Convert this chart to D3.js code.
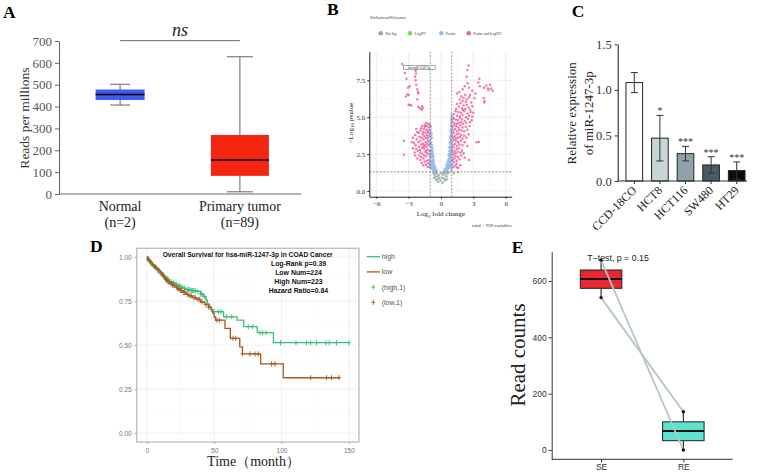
<!DOCTYPE html>
<html>
<head>
<meta charset="utf-8">
<script src="https://cdn.jsdelivr.net/npm/d3@7"></script>
<style>
body { margin: 0; background: #fff; }
</style>
</head>
<body>
<svg id="fig" width="757" height="475"></svg>
<script>
// ---------- data ----------
// A: UALCAN box plot  [min, q1, median, q3, max]
const tcgaGroups = ['Normal', 'Primary tumor'];
const tcgaCounts = ['(n=2)', '(n=89)'];
const tcgaStats = [
    [407, 430, 455, 478, 502],
    [10, 83, 156, 270, 628],
];
const tcgaTicks = [0, 100, 200, 300, 400, 500, 600, 700];

// B: volcano  [log2FC, -log10 p]
const volcanoLabel = ['hsa-miR-1247-3p', -2.35, 8.15];
const volcanoPoints = [
    // pink, left
    [-1.05,4.5],[-1.12,4.3],[-1.2,4.55],[-1.3,4.4],[-1.4,4.6],[-1.5,4.35],[-1.6,4.2],[-1.75,4.4],[-1.9,4.1],[-2.05,3.95],
    [-2.2,4.0],[-2.4,3.8],[-2.6,3.6],[-2.7,3.3],[-1.08,3.9],[-1.15,3.7],[-1.22,4.0],[-1.3,3.8],[-1.38,3.6],[-1.45,3.95],
    [-1.55,3.7],[-1.62,3.5],[-1.7,3.85],[-1.8,3.6],[-1.9,3.4],[-2.0,3.65],[-2.1,3.3],[-2.25,3.5],[-2.35,3.1],[-2.5,3.25],
    [-2.6,2.9],[-1.05,3.3],[-1.12,3.1],[-1.2,3.4],[-1.28,3.2],[-1.35,3.0],[-1.42,3.3],[-1.5,3.1],[-1.58,2.9],[-1.66,3.2],
    [-1.75,2.95],[-1.85,3.15],[-1.95,2.8],[-2.05,3.0],[-2.15,2.7],[-2.3,2.85],[-2.45,2.6],[-1.06,2.7],[-1.14,2.5],[-1.22,2.8],
    [-1.3,2.55],[-1.38,2.35],[-1.46,2.65],[-1.55,2.4],[-1.63,2.2],[-1.72,2.5],[-1.82,2.3],[-1.92,2.1],[-2.02,2.4],[-2.2,2.2],
    [-1.08,2.1],[-1.18,1.9],[-1.28,2.05],[-1.4,1.8],[-1.52,2.0],[-1.65,1.75],[-1.8,1.9],[-1.1,1.6],[-1.25,1.65],[-1.02,2.35],
    [-1.02,1.8],[-3.45,3.4],[-3.45,2.45],[-1.35,4.15],[-1.65,4.0],[-1.15,4.1],[-1.48,4.45],[-1.85,4.25],[-2.3,4.2],[-1.25,3.55],
    [-1.6,3.05],[-1.9,2.6],[-2.4,2.4],[-1.35,2.75],
    [-3.6,8.6],[-3.35,8.0],[-2.4,7.75],[-2.35,7.5],[-2.3,7.2],[-3.05,7.0],[-2.9,7.1],[-3.1,6.55],[-3.0,6.5],[-2.2,6.9],
    [-2.15,6.7],[-2.1,6.6],[-2.9,5.85],[-2.75,5.8],[-2.1,5.7],[-1.95,5.6],[-1.8,5.5],[-1.7,5.6],[-3.2,7.6],[-2.32,7.97],
    [-2.2,6.2],[-3.25,6.4],[-3.0,5.83],[-1.75,5.75],
    // pink, right
    [1.9,6.4],[2.1,6.3],[2.25,6.5],[2.4,6.2],[2.6,6.35],[2.0,6.1],[1.75,6.2],[2.8,6.0],[2.3,6.05],
    [1.5,5.9],[1.65,5.7],[1.8,5.95],[1.95,5.6],[2.1,5.8],[2.25,5.55],[2.4,5.85],[2.55,5.65],[2.7,5.5],[2.9,5.75],[1.4,5.55],[2.05,5.5],
    [1.2,5.2],[1.35,5.4],[1.5,5.1],[1.6,5.35],[1.75,5.05],[1.85,5.3],[2.0,5.15],[2.15,5.4],[2.3,5.0],[2.45,5.25],[2.6,5.1],[2.75,5.35],[2.9,5.05],[3.0,5.3],[1.1,5.0],
    [1.05,4.7],[1.15,4.9],[1.25,4.6],[1.35,4.85],[1.45,4.55],[1.55,4.8],[1.65,4.6],[1.75,4.95],[1.85,4.65],[1.95,4.85],[2.05,4.55],[2.2,4.75],[2.35,4.6],[2.5,4.9],[2.7,4.65],[2.85,4.8],
    [1.05,4.3],[1.12,4.1],[1.2,4.45],[1.3,4.2],[1.4,4.4],[1.5,4.05],[1.6,4.3],[1.7,4.15],[1.8,4.45],[1.9,4.1],[2.0,4.3],[2.15,4.05],[2.3,4.35],[2.45,4.15],[2.65,4.4],
    [1.03,3.8],[1.1,3.6],[1.18,3.95],[1.27,3.7],[1.36,3.55],[1.45,3.85],[1.55,3.6],[1.65,3.9],[1.75,3.65],[1.88,3.8],[2.0,3.55],[2.15,3.75],[2.35,3.6],[2.55,3.85],
    [1.04,3.3],[1.12,3.1],[1.2,3.45],[1.3,3.2],[1.4,3.4],[1.5,3.05],[1.6,3.3],[1.72,3.15],[1.85,3.4],[2.0,3.1],[2.2,3.3],[3.3,3.3],[3.5,3.32],[2.45,3.05],
    [1.02,2.8],[1.1,2.6],[1.18,2.95],[1.26,2.7],[1.35,2.55],[1.45,2.85],[1.55,2.65],[1.68,2.9],[1.8,2.6],[1.95,2.75],[2.1,2.55],
    [1.03,2.3],[1.1,2.1],[1.17,2.45],[1.25,2.2],[1.35,2.35],[1.45,2.05],[1.58,2.3],[1.72,2.15],[1.9,2.4],[2.2,2.25],[2.6,2.1],
    [1.05,1.8],[1.12,1.6],[1.2,1.95],[1.32,1.7],[1.45,1.85],[1.6,1.55],[1.8,1.75],[1.5,1.6],
    [2.55,8.5],[2.45,8.2],[2.38,7.75],[2.47,7.3],[2.6,7.0],[3.55,7.6],[3.46,7.35],[3.6,7.1],[4.0,7.0],[4.2,7.15],
    [4.35,6.95],[4.55,7.2],[4.65,6.95],[4.4,6.85],[4.8,6.8],[3.95,6.3],[4.05,6.1],[4.0,6.0],[3.2,6.6],[2.9,6.8],
    [3.1,6.3],[1.5,6.6],[2.0,6.9],[2.2,7.1],[1.7,6.7],[2.7,6.5],
    // blue, left
    [-0.98,4.4],[-0.95,4.1],[-0.92,3.8],[-0.97,3.5],[-0.9,3.3],[-0.94,3.0],[-0.88,2.8],[-0.96,2.6],[-0.85,2.5],[-0.92,2.3],
    [-0.8,2.2],[-0.88,2.0],[-0.95,1.8],[-0.78,1.9],[-0.84,1.7],[-0.72,1.8],[-0.9,1.5],[-0.7,1.55],[-0.65,1.6],[-0.6,1.45],
    [-0.75,1.4],[-0.85,3.6],[-0.82,3.1],[-0.78,2.7],[-0.74,2.4],[-0.7,2.1],[-0.66,1.95],[-0.62,1.75],[-0.55,1.5],[-0.5,1.4],
    [-0.99,3.2],[-0.99,2.2],[-0.93,4.3],[-0.87,3.9],[-0.8,2.9],[-0.76,2.55],[-0.68,2.3],[-0.58,1.65],[-0.45,1.35],[-0.97,1.6],
    [-0.96,3.95],[-0.91,3.55],[-0.89,3.15],[-0.86,2.95],[-0.83,2.65],[-0.81,2.4],[-0.77,2.05],[-0.73,1.7],[-0.69,1.45],[-0.63,1.5],
    [-0.93,2.75],[-0.97,2.45],[-0.98,2.0],[-0.9,1.95],[-0.86,1.85],[-0.8,1.6],[-0.52,1.55],[-0.4,1.42],[-0.94,3.3],[-0.99,3.7],
    // blue, right
    [0.98,5.2],[0.95,4.9],[0.97,4.6],[0.92,4.4],[0.96,4.2],[0.9,4.0],[0.94,3.8],[0.87,3.6],[0.93,3.4],[0.85,3.2],
    [0.9,3.0],[0.82,2.9],[0.88,2.7],[0.8,2.5],[0.86,2.3],[0.76,2.2],[0.83,2.0],[0.72,1.95],[0.78,1.8],[0.68,1.7],
    [0.74,1.6],[0.62,1.6],[0.58,1.5],[0.66,1.45],[0.52,1.4],[0.45,1.35],[0.99,3.9],[0.99,2.6],[0.97,3.1],[0.91,3.5],
    [0.89,2.4],[0.84,2.6],[0.81,2.2],[0.79,2.05],[0.7,1.85],[0.64,1.55],[0.55,1.65],[0.95,2.1],[0.98,1.8],[0.92,1.7],
    [0.87,1.55],[0.96,4.75],[0.93,4.5],[0.88,4.1],[0.86,3.7],[0.8,3.3],[0.77,3.0],[0.73,2.7],[0.69,2.4],[0.6,2.0],
    [0.35,1.35],[0.3,1.45],[0.4,1.5],[0.5,1.8],[0.99,1.4],
    [0.97,4.05],[0.94,3.65],[0.91,3.25],[0.89,2.85],[0.85,2.5],[0.83,2.35],[0.78,2.45],[0.75,1.95],[0.71,2.15],[0.67,1.9],
    [0.63,1.8],[0.57,1.75],[0.48,1.55],[0.95,2.95],[0.98,2.3],[0.92,1.95],[0.86,1.75],[0.82,1.65],[0.96,5.0],[0.99,4.4],
    // not significant
    [-0.7,1.2],[-0.6,1.1],[-0.5,0.95],[-0.4,1.2],[-0.55,1.25],[-0.35,1.0],[-0.3,0.8],[-0.25,0.6],[-0.2,1.1],[-0.45,0.75],
    [-0.15,0.9],[0.05,1.2],[0.1,0.9],[0.2,1.1],[0.3,0.85],[0.4,1.15],[0.5,1.0],[0.6,1.2],[0.7,1.25],[0.35,0.7],
    [0.15,0.55],[-0.05,0.7],[-0.65,0.9],[0.55,0.8],[0.25,1.25],
    // log2FC only
    [1.2,1.2],[1.6,1.25],
    volcanoLabel.slice(1),
];
const volcanoXTicks = [-6, -3, 0, 3, 6];
const volcanoYTicks = [0, 2.5, 5, 7.5];
const volcanoLegend = [['ns', 'Not Sig'], ['fc', 'Log2FC'], ['p', 'Pvalue'], ['both', 'Pvalue and Log2FC']];
const fcCut = 1;
const pCut = -Math.log10(0.05);
const volcanoTotal = 939;

// C: qPCR bars
const cellLines = ['CCD-18CO', 'HCT8', 'HCT116', 'SW480', 'HT29'];
const relExpr = [1.08, 0.47, 0.30, 0.176, 0.114];
const relSd = [0.11, 0.25, 0.08, 0.09, 0.095];
const relSig = ['', '*', '***', '***', '***'];
const relTicks = [0, 0.5, 1.0, 1.5];

// D: Kaplan-Meier  [month, survival]
const kmHigh = [
    [0,1.0],[1,0.985],[2,0.975],[3,0.965],[4,0.955],[5,0.948],[6,0.94],[7,0.932],[8,0.925],[9,0.918],
    [10,0.91],[12,0.9],[13,0.89],[14,0.88],[16,0.87],[17,0.86],[19,0.855],[21,0.845],[23,0.84],[25,0.83],
    [27,0.822],[29,0.815],[33,0.81],[37,0.805],[40,0.79],[42,0.775],[44,0.755],[45,0.735],[46,0.715],[48,0.69],
    [57,0.661],[67,0.642],[72,0.605],[82,0.571],[94,0.514],[150,0.514],
];
const kmLow = [
    [0,1.0],[1,0.99],[2,0.98],[3,0.97],[4,0.96],[5,0.955],[6,0.945],[7,0.94],[8,0.93],[9,0.925],
    [10,0.915],[11,0.905],[12,0.895],[13,0.885],[14,0.875],[15,0.865],[16,0.858],[17,0.85],[19,0.84],[21,0.83],
    [23,0.82],[25,0.81],[27,0.8],[29,0.79],[31,0.78],[34,0.77],[37,0.76],[40,0.745],[43,0.73],[46,0.715],
    [48,0.7],[49,0.68],[50,0.66],[51,0.642],[58,0.595],[62,0.539],[69,0.49],[71,0.45],[84.5,0.394],[101.3,0.315],[143.3,0.315],
];
const kmHighCensor = [1,3,5,8,10,12,14,15,17,18,20,22,24,26,28,30,31,32,33,34,35,36,38,40,41,43,47,50,53,55,59,63,
    75.3,78.6,84,86,88.5,99.3,110.7,118.6,121.6,126,132.9,135.4,140.8,150];
const kmLowCensor = [1,2,4,6,7,9,11,12,13,14,15,16,18,19,20,22,23,24,25,26,27,28,30,32,33,35,36,38,39,41,44,46,52,54,
    64,66,71,76.6,80.3,82.7,92.6,95.1,121.6,133.4,137.1,142.6];
const kmInfo = ['Overall Survival for hsa-miR-1247-3p in COAD Cancer', 'Log-Rank p=0.39', 'Low Num=224', 'High Num=223', 'Hazard Ratio=0.84'];
const kmXTicks = [0, 50, 100, 150];
const kmYTicks = [0, 0.25, 0.5, 0.75, 1];

// E: paired box plot  [min, q1, median, q3, max]
const pairGroups = ['SE', 'RE'];
const pairStats = [
    [541, 574, 607, 639, 674],
    [0, 33, 67.5, 100, 136],
];
const pairSE = [674, 541];
const pairRE = [0, 136];
const pairTicks = [0, 200, 400, 600];

// ---------- styles ----------
const SERIF = '"Liberation Serif","Times New Roman",serif';
const SANS = '"Liberation Sans",Arial,sans-serif';
const tcgaColors = ['#3d5cee', '#f5260f'];
const volcColors = { ns: '#98a6a7', fc: '#6fdc5a', p: '#92bbef', both: '#f0629a' };
const barColors = ['#ffffff', '#c8d5d7', '#8fa2ab', '#4b5b63', '#0d0d0d'];
const kmColors = { high: '#34c07c', low: '#a65a1e' };
const pairColors = ['#e8282f', '#5de3cf'];

const svg = d3.select('#fig');
svg.append('rect').attr('width', 757).attr('height', 475).attr('fill', '#fff');

function panelLabel(t, x, y) {
    svg.append('text').attr('x', x).attr('y', y).text(t)
        .attr('font-family', SERIF).attr('font-weight', 'bold').attr('font-size', 17.5);
}
panelLabel('A', 3, 18.3);
panelLabel('B', 327, 15);
panelLabel('C', 571.7, 16.7);
panelLabel('D', 90, 251.7);
panelLabel('E', 511.7, 252.7);

function styleAxis(g, font, size, color, lineColor) {
    g.select('.domain').attr('stroke', lineColor);
    g.selectAll('.tick line').attr('stroke', lineColor);
    g.selectAll('.tick text').attr('font-family', font).attr('font-size', size).attr('fill', color);
}

// ---------- A ----------
{
    const g = svg.append('g');
    const y = d3.scaleLinear().domain([0, 700]).range([194, 41]);
    const x = d3.scalePoint().domain(tcgaGroups).range([59, 301]).padding(0.51);
    const boxW = [49, 58], capW = [20, 26];

    const ax = g.append('g').attr('transform', 'translate(59,0)')
        .call(d3.axisLeft(y).tickValues(tcgaTicks).tickSize(4).tickSizeOuter(0).tickPadding(3));
    styleAxis(ax, SERIF, 13, '#555', '#666');
    g.append('line').attr('x1', 59).attr('x2', 301).attr('y1', 194).attr('y2', 194).attr('stroke', '#666');

    tcgaStats.forEach((s, i) => {
        const cx = x(tcgaGroups[i]);
        g.append('line').attr('x1', cx).attr('x2', cx).attr('y1', y(s[0])).attr('y2', y(s[4]))
            .attr('stroke', '#666');
        [s[0], s[4]].forEach((v) => {
            g.append('line').attr('x1', cx - capW[i] / 2).attr('x2', cx + capW[i] / 2)
                .attr('y1', y(v)).attr('y2', y(v)).attr('stroke', '#666');
        });
        g.append('rect').attr('x', cx - boxW[i] / 2).attr('width', boxW[i])
            .attr('y', y(s[3])).attr('height', y(s[1]) - y(s[3])).attr('fill', tcgaColors[i]);
        g.append('line').attr('x1', cx - boxW[i] / 2).attr('x2', cx + boxW[i] / 2)
            .attr('y1', y(s[2])).attr('y2', y(s[2])).attr('stroke', '#000').attr('stroke-width', 1.5);
        g.append('text').attr('x', cx).attr('y', 211).attr('text-anchor', 'middle')
            .attr('font-family', SERIF).attr('font-size', 14).attr('fill', '#222').text(tcgaGroups[i]);
        g.append('text').attr('x', cx).attr('y', 226.5).attr('text-anchor', 'middle')
            .attr('font-family', SERIF).attr('font-size', 14).attr('fill', '#222').text(tcgaCounts[i]);
    });

    const x0 = x(tcgaGroups[0]), x1 = x(tcgaGroups[1]);
    g.append('line').attr('x1', x0).attr('x2', x1).attr('y1', 40.7).attr('y2', 40.7).attr('stroke', '#666');
    g.append('text').attr('x', (x0 + x1) / 2).attr('y', 36).attr('text-anchor', 'middle')
        .attr('font-family', SERIF).attr('font-style', 'italic').attr('font-size', 18).attr('fill', '#222').text('ns');
    g.append('text').attr('transform', 'translate(29,118) rotate(-90)').attr('text-anchor', 'middle')
        .attr('font-family', SERIF).attr('font-size', 13.5).attr('fill', '#333').text('Reads per millions');
}

// ---------- B ----------
{
    const g = svg.append('g');
    const x = d3.scaleLinear().domain([-6.65, 6.56]).range([369.3, 511.7]);
    const y = d3.scaleLinear().domain([-0.39, 9.44]).range([196.7, 51.7]);
    const cls = (d) => {
        const fc = Math.abs(d[0]) > fcCut, p = d[1] > pCut;
        return fc && p ? 'both' : p ? 'p' : fc ? 'fc' : 'ns';
    };

    const minorX = [-4.5, -1.5, 1.5, 4.5], minorY = [1.25, 3.75, 6.25, 8.75];
    minorX.forEach((v) => g.append('line').attr('x1', x(v)).attr('x2', x(v)).attr('y1', 51.7).attr('y2', 196.7)
        .attr('stroke', '#f2f2f2').attr('stroke-width', 0.5));
    minorY.forEach((v) => g.append('line').attr('x1', 369.3).attr('x2', 511.7).attr('y1', y(v)).attr('y2', y(v))
        .attr('stroke', '#f2f2f2').attr('stroke-width', 0.5));
    volcanoXTicks.forEach((v) => g.append('line').attr('x1', x(v)).attr('x2', x(v)).attr('y1', 51.7).attr('y2', 196.7)
        .attr('stroke', '#e6e6e6').attr('stroke-width', 0.7));
    volcanoYTicks.forEach((v) => g.append('line').attr('x1', 369.3).attr('x2', 511.7).attr('y1', y(v)).attr('y2', y(v))
        .attr('stroke', '#e6e6e6').attr('stroke-width', 0.7));

    const ax = g.append('g').attr('transform', 'translate(0,196.7)')
        .call(d3.axisBottom(x).tickValues(volcanoXTicks).tickSize(2).tickSizeOuter(0).tickPadding(2).tickFormat(d3.format('d')));
    styleAxis(ax, SERIF, 7, '#333', '#222');
    const ay = g.append('g').attr('transform', 'translate(369.3,0)')
        .call(d3.axisLeft(y).tickValues(volcanoYTicks).tickSize(2).tickSizeOuter(0).tickPadding(2).tickFormat(d3.format('.1f')));
    styleAxis(ay, SERIF, 7, '#333', '#222');

    g.selectAll('circle.pt').data(volcanoPoints).join('circle').attr('class', 'pt')
        .attr('cx', (d) => x(d[0])).attr('cy', (d) => y(d[1])).attr('r', 1.25)
        .attr('fill', (d) => volcColors[cls(d)]).attr('opacity', 0.85);

    [-fcCut, fcCut].forEach((v) => g.append('line').attr('x1', x(v)).attr('x2', x(v)).attr('y1', 51.7).attr('y2', 196.7)
        .attr('stroke', '#555').attr('stroke-width', 0.6).attr('stroke-dasharray', '2,1.5'));
    g.append('line').attr('x1', 369.3).attr('x2', 511.7).attr('y1', y(pCut)).attr('y2', y(pCut))
        .attr('stroke', '#555').attr('stroke-width', 0.6).attr('stroke-dasharray', '2,1.5');

    // labelled miRNA
    const lx = x(volcanoLabel[1]), ly = y(volcanoLabel[2]);
    g.append('line').attr('x1', lx).attr('x2', lx + 1).attr('y1', ly).attr('y2', ly - 2).attr('stroke', '#333').attr('stroke-width', 0.4);
    g.append('rect').attr('x', lx - 12.5).attr('y', ly - 5.3).attr('width', 32).attr('height', 4.3)
        .attr('fill', '#fff').attr('stroke', '#333').attr('stroke-width', 0.4);
    g.append('text').attr('x', lx + 3.5).attr('y', ly - 2).attr('text-anchor', 'middle')
        .attr('font-family', SERIF).attr('font-size', 3.2).attr('fill', '#222').text(volcanoLabel[0]);

    // titles
    g.append('text').attr('x', 441).attr('y', 216).attr('text-anchor', 'middle')
        .attr('font-family', SERIF).attr('font-size', 7).attr('fill', '#222')
        .html('Log<tspan font-size="5" dy="1.5">2</tspan><tspan dy="-1.5"> fold change</tspan>');
    g.append('text').attr('transform', 'translate(352.5,123) rotate(-90)').attr('text-anchor', 'middle')
        .attr('font-family', SERIF).attr('font-size', 7).attr('fill', '#222')
        .html('\u2212Log<tspan font-size="5" dy="1.5">10</tspan><tspan dy="-1.5"> pvalue</tspan>');
    g.append('text').attr('x', 511.7).attr('y', 227.3).attr('text-anchor', 'end')
        .attr('font-family', SERIF).attr('font-size', 4.8).attr('fill', '#333').text(`total = ${volcanoTotal} variables`);
    g.append('text').attr('x', 370).attr('y', 19).attr('font-family', SERIF).attr('font-style', 'italic')
        .attr('font-size', 5).attr('fill', '#444').text('EnhancedVolcano');

    const legX = [380.7, 410, 441.3, 468.7];
    volcanoLegend.forEach((l, i) => {
        g.append('circle').attr('cx', legX[i]).attr('cy', 33.3).attr('r', 2.3).attr('fill', volcColors[l[0]]);
        g.append('text').attr('x', legX[i] + 4.5).attr('y', 34.6).attr('font-family', SERIF)
            .attr('font-size', 3.6).attr('fill', '#333').text(l[1]);
    });
}

// ---------- C ----------
{
    const g = svg.append('g');
    const y = d3.scaleLinear().domain([0, 1.5]).range([181, 44.3]);
    const x = d3.scaleBand().domain(cellLines).range([621.5, 749.5]).paddingInner(0.35).paddingOuter(0.175);

    const ay = g.append('g').attr('transform', 'translate(617.7,0)')
        .call(d3.axisLeft(y).tickValues(relTicks).tickSize(3).tickSizeOuter(0).tickPadding(3).tickFormat(d3.format('.1f')));
    styleAxis(ay, SERIF, 12.5, '#333', '#333');
    ay.select('.domain').attr('stroke-width', 1.2);

    g.selectAll('rect.bar').data(relExpr).join('rect').attr('class', 'bar')
        .attr('x', (d, i) => x(cellLines[i])).attr('width', x.bandwidth())
        .attr('y', (d) => y(d)).attr('height', (d) => 181 - y(d))
        .attr('fill', (d, i) => barColors[i]).attr('stroke', '#222').attr('stroke-width', 1);

    relExpr.forEach((m, i) => {
        const cx = x(cellLines[i]) + x.bandwidth() / 2;
        const lo = y(Math.max(0, m - relSd[i])), hi = y(m + relSd[i]);
        g.append('line').attr('x1', cx).attr('x2', cx).attr('y1', lo).attr('y2', hi).attr('stroke', '#333');
        [lo, hi].forEach((v) => g.append('line').attr('x1', cx - 3.5).attr('x2', cx + 3.5).attr('y1', v).attr('y2', v)
            .attr('stroke', '#333'));
        if (relSig[i]) {
            g.append('text').attr('x', cx).attr('y', hi - 1).attr('text-anchor', 'middle')
                .attr('font-family', SERIF).attr('font-size', 10).attr('fill', '#333').text(relSig[i]);
        }
        g.append('line').attr('x1', cx).attr('x2', cx).attr('y1', 181).attr('y2', 184).attr('stroke', '#333');
        g.append('text').attr('transform', `translate(${cx + 3},${191}) rotate(-45)`).attr('text-anchor', 'end')
            .attr('font-family', SERIF).attr('font-size', 12).attr('fill', '#222').text(cellLines[i]);
    });
    g.append('line').attr('x1', 617.7).attr('x2', 747).attr('y1', 181).attr('y2', 181)
        .attr('stroke', '#333').attr('stroke-width', 1.2);

    g.append('text').attr('transform', 'translate(576,113.3) rotate(-90)').attr('text-anchor', 'middle')
        .attr('font-family', SERIF).attr('font-size', 13).attr('fill', '#222').text('Relative expression');
    g.append('text').attr('transform', 'translate(592.5,113.3) rotate(-90)').attr('text-anchor', 'middle')
        .attr('font-family', SERIF).attr('font-size', 13).attr('fill', '#222').text('of miR-1247-3p');
}

// ---------- D ----------
{
    const g = svg.append('g');
    const x = d3.scaleLinear().domain([-7.5, 157.5]).range([136.7, 359]);
    const y = d3.scaleLinear().domain([-0.05, 1.05]).range([442, 248.3]);

    [25, 75, 125].forEach((v) => g.append('line').attr('x1', x(v)).attr('x2', x(v)).attr('y1', 248.3).attr('y2', 442)
        .attr('stroke', '#f4f4f4').attr('stroke-width', 0.5));
    [0.125, 0.375, 0.625, 0.875].forEach((v) => g.append('line').attr('x1', 136.7).attr('x2', 359).attr('y1', y(v)).attr('y2', y(v))
        .attr('stroke', '#f4f4f4').attr('stroke-width', 0.5));
    kmXTicks.forEach((v) => g.append('line').attr('x1', x(v)).attr('x2', x(v)).attr('y1', 248.3).attr('y2', 442)
        .attr('stroke', '#ebebeb').attr('stroke-width', 0.8));
    kmYTicks.forEach((v) => g.append('line').attr('x1', 136.7).attr('x2', 359).attr('y1', y(v)).attr('y2', y(v))
        .attr('stroke', '#ebebeb').attr('stroke-width', 0.8));

    const ax = g.append('g').attr('transform', 'translate(0,442)')
        .call(d3.axisBottom(x).tickValues(kmXTicks).tickSize(2).tickSizeOuter(0).tickPadding(4));
    styleAxis(ax, SANS, 6.5, '#6b7878', '#9aa8aa');
    ax.select('.domain').remove();
    const ay = g.append('g').attr('transform', 'translate(136.7,0)')
        .call(d3.axisLeft(y).tickValues(kmYTicks).tickSize(2).tickSizeOuter(0).tickPadding(3).tickFormat(d3.format('.2f')));
    styleAxis(ay, SANS, 6.5, '#6b7878', '#9aa8aa');
    ay.select('.domain').remove();

    const line = d3.line().x((d) => x(d[0])).y((d) => y(d[1])).curve(d3.curveStepAfter);
    const survAt = (curve, t) => {
        let s = curve[0][1];
        curve.forEach((p) => { if (p[0] <= t) s = p[1]; });
        return s;
    };
    const drawCurve = (curve, censor, color) => {
        g.append('path').attr('d', line(curve)).attr('fill', 'none').attr('stroke', color).attr('stroke-width', 1.3);
        censor.forEach((t) => {
            const cx = x(t), cy = y(survAt(curve, t));
            g.append('path').attr('d', `M${cx},${cy - 2.6}V${cy + 2.6}M${cx - 2},${cy}H${cx + 2}`)
                .attr('stroke', color).attr('stroke-width', 0.9);
        });
    };
    drawCurve(kmHigh, kmHighCensor, kmColors.high);
    drawCurve(kmLow, kmLowCensor, kmColors.low);

    g.append('rect').attr('x', 136.7).attr('y', 248.3).attr('width', 222.3).attr('height', 193.7)
        .attr('fill', 'none').attr('stroke', '#b3c1c2').attr('stroke-width', 1.3);

    // annotation (condensed bold)
    const infoY = [256.8, 266.3, 275.3, 284.3, 293];
    const infoW = [170, 55, 46.7, 48.3, 59.3];
    kmInfo.forEach((t, i) => {
        const txt = g.append('text').attr('y', infoY[i]).attr('font-family', SANS).attr('font-weight', 'bold')
            .attr('font-size', 7.8).attr('fill', '#111').text(t)
            .attr('textLength', infoW[i]).attr('lengthAdjust', 'spacingAndGlyphs');
        if (i === 0) txt.attr('x', 162.7);
        else txt.attr('x', 298.5).attr('text-anchor', 'middle');
    });

    // legend
    const legend = [['line', 'high', kmColors.high], ['line', 'low', kmColors.low],
        ['cross', '(high,1)', kmColors.high], ['cross', '(low,1)', kmColors.low]];
    legend.forEach((l, i) => {
        const ly = 256.7 + i * 15.2;
        if (l[0] === 'line') {
            g.append('line').attr('x1', 366.7).attr('x2', 380).attr('y1', ly).attr('y2', ly)
                .attr('stroke', l[2]).attr('stroke-width', 1.3);
        } else {
            g.append('path').attr('d', `M373.3,${ly - 2.6}V${ly + 2.6}M371.3,${ly}H375.3`)
                .attr('stroke', l[2]).attr('stroke-width', 0.9);
        }
        g.append('text').attr('x', 381.7).attr('y', ly + 2.4).attr('font-family', SANS)
            .attr('font-size', 7).attr('fill', '#555').text(l[1]);
    });

    g.append('text').attr('x', 253.5).attr('y', 466).attr('text-anchor', 'middle')
        .attr('font-family', SERIF).attr('font-size', 14).attr('fill', '#222').text('Time\uff08month\uff09');
}

// ---------- E ----------
{
    const g = svg.append('g');
    const y = d3.scaleLinear().domain([-33, 704]).range([459.3, 251.7]);
    const x = d3.scalePoint().domain(pairGroups).range([551.7, 732.7]).padding(0.6);
    const boxW = 41.5;

    pairStats.forEach((s, i) => {
        const cx = x(pairGroups[i]);
        g.append('line').attr('x1', cx).attr('x2', cx).attr('y1', y(s[0])).attr('y2', y(s[1])).attr('stroke', '#111');
        g.append('line').attr('x1', cx).attr('x2', cx).attr('y1', y(s[3])).attr('y2', y(s[4])).attr('stroke', '#111');
        g.append('rect').attr('x', cx - boxW / 2).attr('width', boxW).attr('y', y(s[3])).attr('height', y(s[1]) - y(s[3]))
            .attr('fill', pairColors[i]).attr('stroke', '#222').attr('stroke-width', 1);
        g.append('line').attr('x1', cx - boxW / 2).attr('x2', cx + boxW / 2).attr('y1', y(s[2])).attr('y2', y(s[2]))
            .attr('stroke', '#111').attr('stroke-width', 2);
    });

    pairSE.forEach((v, i) => {
        g.append('line').attr('x1', x('SE')).attr('x2', x('RE')).attr('y1', y(v)).attr('y2', y(pairRE[i]))
            .attr('stroke', '#b7c5c7').attr('stroke-width', 1.8);
    });
    pairSE.forEach((v) => g.append('circle').attr('cx', x('SE')).attr('cy', y(v)).attr('r', 1.7).attr('fill', '#111'));
    pairRE.forEach((v) => g.append('circle').attr('cx', x('RE')).attr('cy', y(v)).attr('r', 1.7).attr('fill', '#111'));

    const ay = g.append('g').attr('transform', 'translate(551.7,0)')
        .call(d3.axisLeft(y).tickValues(pairTicks).tickSize(3).tickSizeOuter(0).tickPadding(2));
    styleAxis(ay, SANS, 8.5, '#333', '#333');
    const ax = g.append('g').attr('transform', 'translate(0,459.3)')
        .call(d3.axisBottom(x).tickSize(3).tickSizeOuter(0).tickPadding(2));
    styleAxis(ax, SANS, 8.5, '#333', '#333');
    ax.select('.domain').attr('d', 'M551.7,0H732.7');

    g.append('text').attr('x', 618).attr('y', 260.5).attr('text-anchor', 'middle')
        .attr('font-family', SANS).attr('font-size', 8.8).attr('fill', '#222').text('T\u2212test, p = 0.15');
    g.append('text').attr('transform', 'translate(525,355) rotate(-90)').attr('text-anchor', 'middle')
        .attr('font-family', SERIF).attr('font-size', 21).attr('fill', '#222').text('Read counts');
}
</script>
</body>
</html>
